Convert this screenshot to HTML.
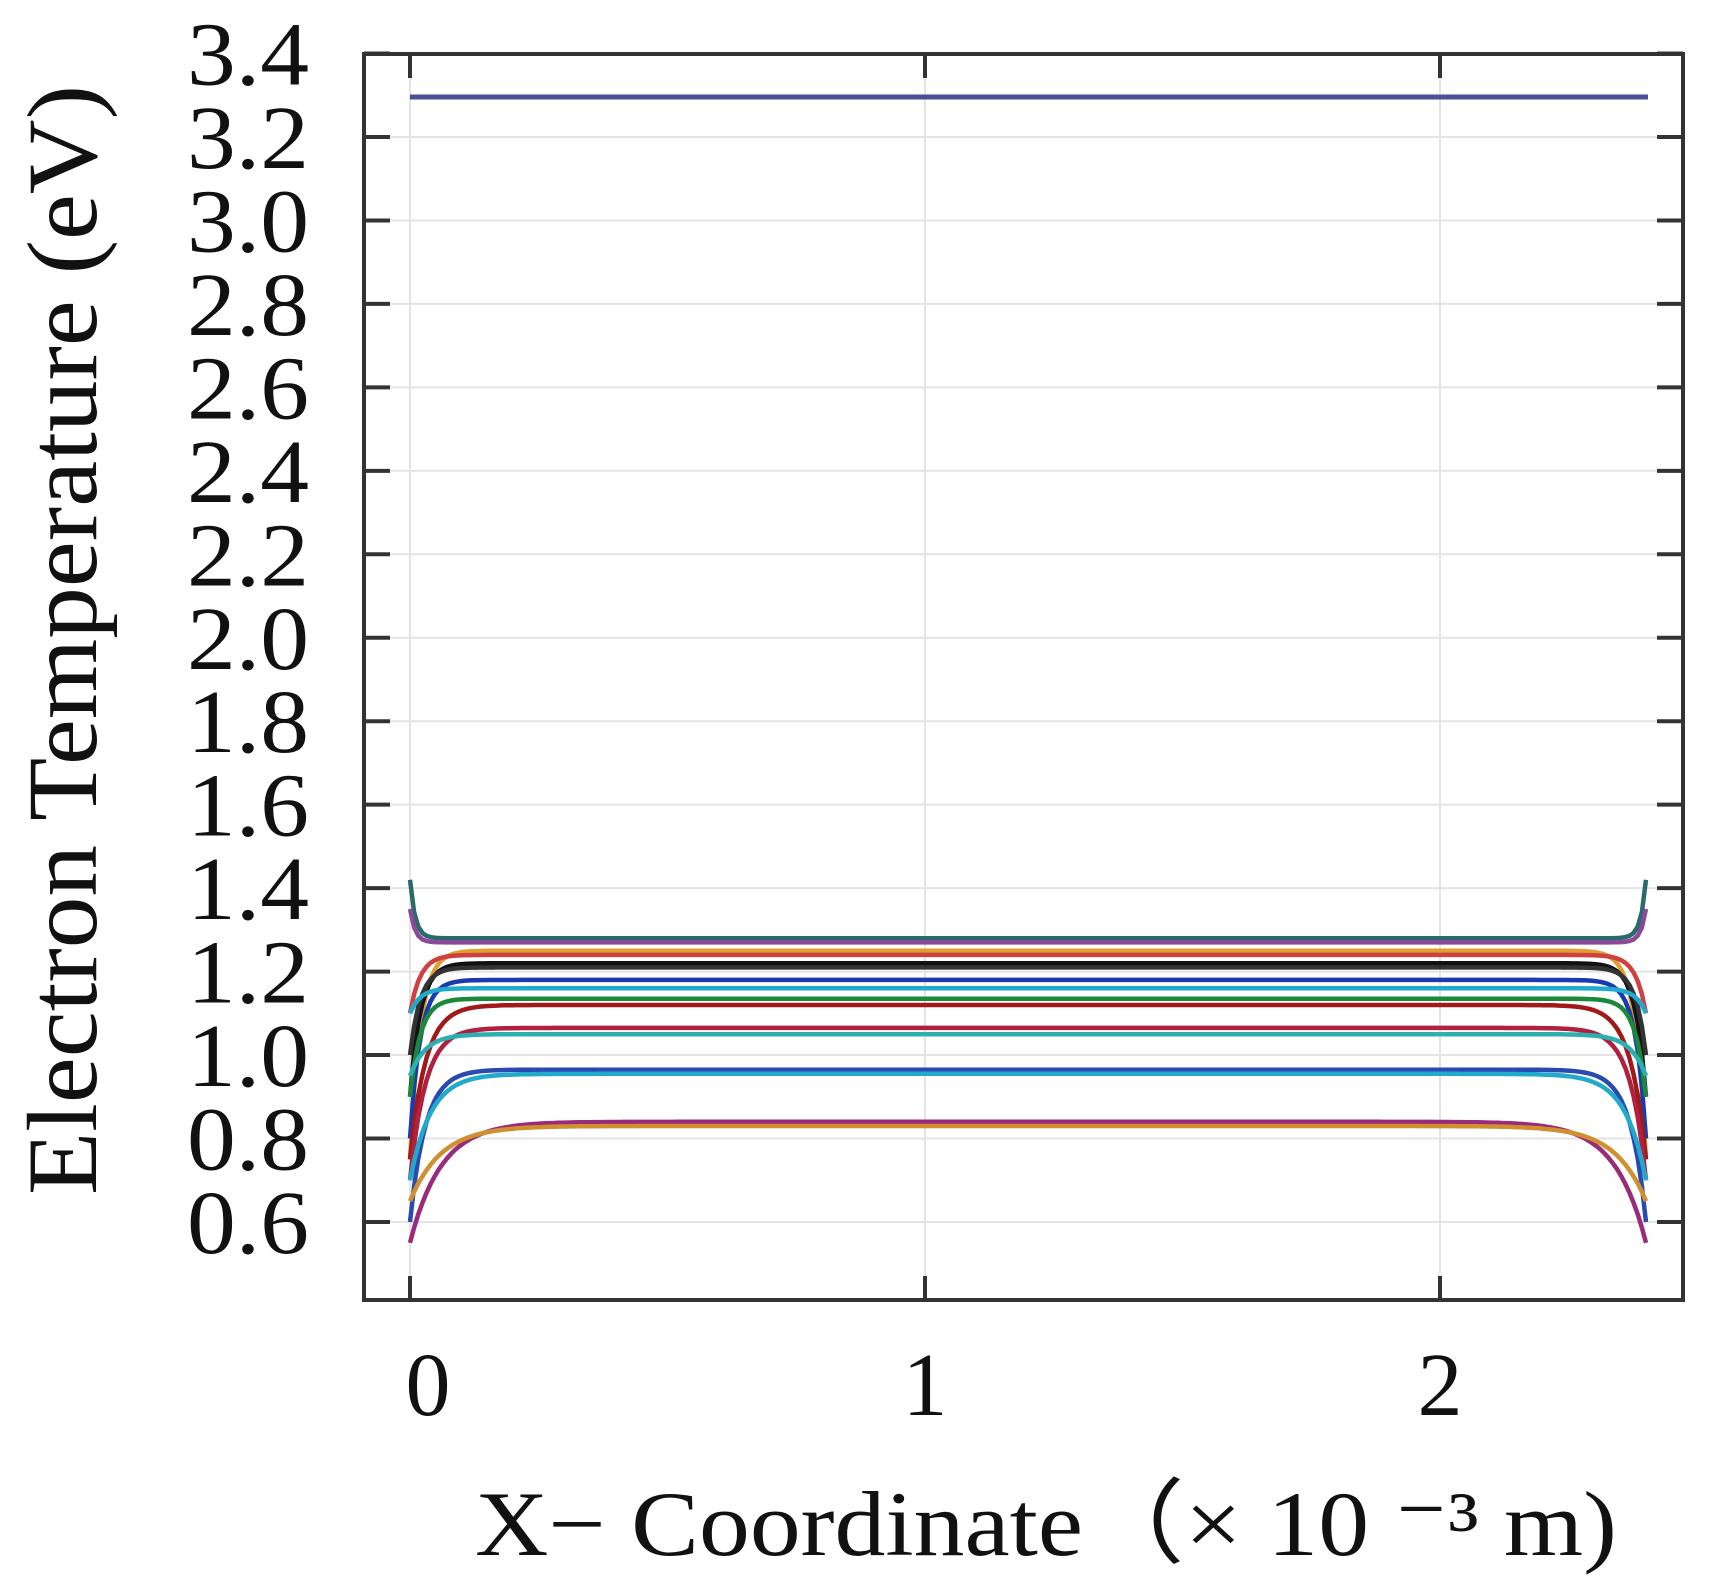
<!DOCTYPE html>
<html><head><meta charset="utf-8"><style>
html,body{margin:0;padding:0;background:#fff;}
svg{display:block;}
text{font-family:"Liberation Serif",serif;fill:#111;}
</style></head><body>
<svg id="s" width="1722" height="1595" xmlns="http://www.w3.org/2000/svg">
<g id="grid" stroke="#e4e4e4" stroke-width="2"></g>
<g id="curves" fill="none" stroke-width="4.5"></g>
<line x1="410" y1="97" x2="1648" y2="97" stroke="#4a4f9a" stroke-width="5"/>
<rect x="364" y="54" width="1319" height="1246" fill="none" stroke="#333" stroke-width="4"/>
<g id="ticks" stroke="#333" stroke-width="4"></g>
<g id="labels" font-size="90" text-anchor="end"></g>
<g font-size="90" text-anchor="middle">
<text x="428" y="1415">0</text><text x="925" y="1415">1</text><text x="1440" y="1415">2</text>
</g>
<text x="475" y="1555" font-size="92" textLength="1142" lengthAdjust="spacingAndGlyphs">X− Coordinate（× 10 ⁻³ m)</text>
<text transform="translate(96,1195) rotate(-90)" font-size="100" textLength="1110" lengthAdjust="spacingAndGlyphs">Electron Temperature (eV)</text>
</svg>
<script>
const ns="http://www.w3.org/2000/svg";
const Y=v=>137+(3.2-v)/0.2*83.46, X=u=>410+515*u;
function el(p,t,a){const e=document.createElementNS(ns,t);for(const k in a)e.setAttribute(k,a[k]);document.getElementById(p).appendChild(e);return e;}
for(let i=0;i<=14;i++){const v=0.6+0.2*i,y=Y(v);
 if(i<14)el("grid","line",{x1:364,x2:1683,y1:y,y2:y});
 el("ticks","line",{x1:364,x2:390,y1:y,y2:y});el("ticks","line",{x1:1657,x2:1683,y1:y,y2:y});
 el("labels","text",{x:309,y:y+31,textLength:122,lengthAdjust:"spacingAndGlyphs"}).textContent=v.toFixed(1);}
for(const u of [0,1,2]){const x=X(u);el("grid","line",{x1:x,x2:x,y1:54,y2:1300});
 el("ticks","line",{x1:x,x2:x,y1:54,y2:78});el("ticks","line",{x1:x,x2:x,y1:1276,y2:1300});}
const L=[[1.28,1.42,"#2a6a6a",0.01],[1.27,1.35,"#8a4a9a",0.01],[1.25,0.75,"#e0a030",0.02],[1.24,1.1,"#d04040",0.02],[1.22,0.9,"#111",0.02],[1.21,1.0,"#333",0.02],[1.18,0.8,"#1a3ab0",0.02],[1.16,1.1,"#22aacc",0.02],[1.135,0.9,"#1a8a3a",0.02],[1.12,0.75,"#a01a1a",0.03],[1.065,0.7,"#b02040",0.03],[1.05,0.95,"#2ab0b0",0.03],[0.965,0.6,"#2a4ab0",0.03],[0.955,0.7,"#22aacc",0.04],[0.84,0.55,"#9a2a7a",0.06],[0.83,0.65,"#d09030",0.06]];
for(const [p,e,c,k] of L){let d="";for(let i=0;i<=300;i++){const u=2.4*i/300;
 const v=p+(e-p)*(Math.exp(-u/k)+Math.exp(-(2.4-u)/k));d+=(i?"L":"M")+X(u).toFixed(1)+","+Y(v).toFixed(1);}
 el("curves","path",{d:d,stroke:c});}
</script>
</body></html>
